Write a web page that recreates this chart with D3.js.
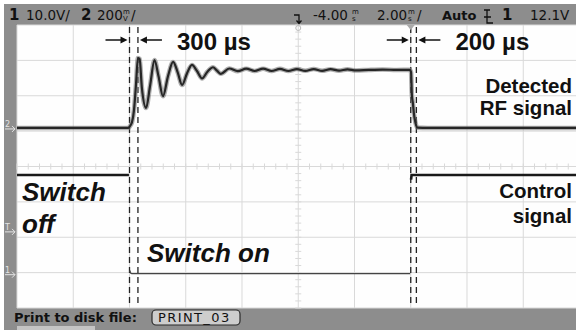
<!DOCTYPE html>
<html>
<head>
<meta charset="utf-8">
<script src="https://cdn.jsdelivr.net/npm/d3@7"></script>
<style>
  body { margin: 0; background: #fff; }
  svg { display: block; }
  .scope { font-family: "DejaVu Sans", sans-serif; fill: #111; }
  .note { font-family: "Liberation Sans", Arial, sans-serif; font-weight: bold; fill: #111; }
</style>
</head>
<body>
<svg id="chart" width="576" height="330"></svg>
<script>
// time in ms (2 ms/div), channel 2 in mV (200 mV/div), channel 1 in V (10 V/div)
const rfTime = [-14, -10.04, -9.98, -9.91, -9.84, -9.77, -9.7, -9.64, -9.56, -9.41, -9.27, -9.11,
  -8.97, -8.81, -8.63, -8.45, -8.29, -8.13, -7.95, -7.78, -7.6, -7.42, -7.23, -7.03, -6.89, -6.75,
  -6.45, -6.15, -5.85, -5.55, -5.25, -4.95, -4.65, -4.35, -4.05, -3.75, -3.45, -3.15, -2.85, -2.55,
  -2.25, -1.95, -1.5, -1.0, -0.5, -0.04, 0.01, 0.04, 0.08, 0.11, 0.17, 0.24, 0.6, 6];
const rfLevel = [0, 0, 11, 33, 101, 243, 395, 390, 226, 113, 237, 384,
  293, 180, 293, 373, 316, 243, 311, 356, 322, 280, 318, 343, 324, 306,
  336, 321, 335, 322, 335, 322, 334, 322, 333, 323, 333, 323, 332, 324,
  331, 325, 328, 330, 328, 329, 316, 186, 135, 84, 28, 2, 0, 0];

const ctrlTime = [-14, -10.02, NaN, -9.99, -9.96, -9.92, -0.02, NaN, 0.01, 0.03, 6];
const ctrlLevel = [27.9, 27.9, NaN, 0.9, 0.2, 0, 0, NaN, 26.6, 27.9, 27.9];

const markerTimes = [-10, -9.7, 0, 0.2];
const gapLabels = ["300 µs", "200 µs"];
const ch1Offset = -3.03, ch2Offset = 1.09;  // divisions
const ch1Scale = 10, ch2Scale = 200;
const trigLevel = 12.1;

const svg = d3.select("#chart");
const plot = { left: 17, right: 579.5, top: 25, bottom: 308 };

const x = d3.scaleLinear().domain([-14, 6]).range([plot.left, plot.right]);
const y = d3.scaleLinear().domain([-4, 4]).range([plot.bottom, plot.top]);
const yCh1 = (v) => y(v / ch1Scale + ch1Offset);
const yCh2 = (v) => y(v / ch2Scale + ch2Offset);

// frame
svg.append("rect").attr("x", 4).attr("y", 4).attr("width", 572).attr("height", 326).attr("fill", "#8d8d8d");
svg.append("rect").attr("x", plot.left).attr("y", plot.top)
  .attr("width", 576 - plot.left).attr("height", plot.bottom - plot.top).attr("fill", "#fefefe");

// grid
const grid = svg.append("g").attr("stroke", "#d9d9d9").attr("stroke-width", 1);
grid.selectAll(".vx").data(d3.range(-14, 7, 2)).join("line")
  .attr("x1", (d) => x(d)).attr("x2", (d) => x(d)).attr("y1", plot.top).attr("y2", plot.bottom);
grid.selectAll(".hy").data(d3.range(-4, 5, 1)).join("line")
  .attr("y1", (d) => y(d)).attr("y2", (d) => y(d)).attr("x1", plot.left).attr("x2", 576);

const minorX = d3.range(-14, 6.001, 0.4), minorY = d3.range(-4, 4.001, 0.2);
grid.selectAll(".tx").data(minorX).join("line")
  .attr("x1", (d) => x(d)).attr("x2", (d) => x(d)).attr("y1", y(0) - 3).attr("y2", y(0) + 3);
grid.selectAll(".ty").data(minorY).join("line")
  .attr("y1", (d) => y(d)).attr("y2", (d) => y(d)).attr("x1", x(-4) - 3).attr("x2", x(-4) + 3);

// marker lines
svg.append("g").selectAll("line").data(markerTimes).join("line")
  .attr("x1", (d) => x(d)).attr("x2", (d) => x(d))
  .attr("y1", plot.top + 2).attr("y2", plot.bottom - 3)
  .attr("stroke", "#222").attr("stroke-width", 1.3).attr("stroke-dasharray", "6,4");

// RF trace
const rfPts = rfTime.map((t, i) => [t, rfLevel[i]]);
const rfLine = d3.line().x((d) => x(d[0])).y((d) => yCh2(d[1])).curve(d3.curveMonotoneX);
svg.append("path").datum(rfPts).attr("d", rfLine)
  .attr("fill", "none").attr("stroke", "#7a7a7a").attr("stroke-width", 4.6).attr("opacity", 0.6);
svg.append("path").datum(rfPts).attr("d", rfLine)
  .attr("fill", "none").attr("stroke", "#262626").attr("stroke-width", 2.2);

// control trace, edges too fast to show
const ctrlSegs = [];
let seg = [];
ctrlTime.forEach((t, i) => {
  if (isNaN(t)) { ctrlSegs.push(seg); seg = []; } else seg.push([t, ctrlLevel[i]]);
});
ctrlSegs.push(seg);
const ctrlLine = d3.line().x((d) => x(d[0])).y((d) => yCh1(d[1]));
svg.append("g").selectAll("path").data(ctrlSegs).join("path")
  .attr("d", ctrlLine).attr("fill", "none")
  .attr("stroke", (d) => d3.max(d, (p) => p[1]) > 10 ? "#1a1a1a" : "#444")
  .attr("stroke-width", (d) => d3.max(d, (p) => p[1]) > 10 ? 2.6 : 1.3);

// gap arrows
const arrows = svg.append("g");
function arrow(xTip, dir) {
  const yA = 40, len = 22;
  arrows.append("line").attr("x1", xTip - dir * len).attr("x2", xTip - dir * 5)
    .attr("y1", yA).attr("y2", yA).attr("stroke", "#111").attr("stroke-width", 1.5);
  arrows.append("path")
    .attr("d", `M${xTip},${yA}L${xTip - dir * 7},${yA - 3.5}L${xTip - dir * 7},${yA + 3.5}Z`)
    .attr("fill", "#111");
}
[0, 1].forEach((k) => {
  const a = markerTimes[k * 2], b = markerTimes[k * 2 + 1];
  arrow(x(a) - 2, 1);
  arrow(x(b) + 2, -1);
  svg.append("text").attr("class", "note").attr("x", x(b) + 39).attr("y", 50)
    .attr("font-size", 24).text(gapLabels[k]);
});

// labels
const right = svg.append("g").attr("class", "note").attr("font-size", 20.5).attr("text-anchor", "end");
right.append("text").attr("x", 572).attr("y", 92.5).text("Detected");
right.append("text").attr("x", 572).attr("y", 115).text("RF signal");
right.append("text").attr("x", 572).attr("y", 197.5).text("Control");
right.append("text").attr("x", 572).attr("y", 222.5).text("signal");

const ital = svg.append("g").attr("class", "note").attr("font-size", 26).attr("font-style", "italic");
ital.append("text").attr("x", 22).attr("y", 200.5).text("Switch");
ital.append("text").attr("x", 22).attr("y", 232.5).text("off");
ital.append("text").attr("x", 147).attr("y", 261.5).text("Switch on");

// status line
const status = svg.append("g").attr("class", "scope").attr("font-size", 13.5);
function stacked(g, xs, a, b) {
  g.append("text").attr("x", xs).attr("y", 14).attr("font-size", 7).text(a);
  g.append("text").attr("x", xs).attr("y", 21).attr("font-size", 7).text(b);
}
status.append("text").attr("x", 9).attr("y", 20).attr("font-weight", "bold").attr("font-size", 15).text("1");
status.append("text").attr("x", 26).attr("y", 20).text("10.0V/");
status.append("text").attr("x", 81).attr("y", 20).attr("font-weight", "bold").attr("font-size", 15).text("2");
status.append("text").attr("x", 97).attr("y", 20).text("200");
stacked(status, 123, "m", "V");
status.append("text").attr("x", 131).attr("y", 20).text("/");
status.append("path").attr("d", "M294,15H299V23M296.5,20.5L299,23.5L301.5,20.5")
  .attr("fill", "none").attr("stroke", "#111").attr("stroke-width", 1.3);
status.append("text").attr("x", 313).attr("y", 20).text("-4.00");
stacked(status, 352, "m", "s");
status.append("text").attr("x", 377).attr("y", 20).text("2.00");
stacked(status, 408, "m", "s");
status.append("text").attr("x", 417).attr("y", 20).text("/");
status.append("text").attr("x", 442).attr("y", 20).attr("font-weight", "bold").attr("font-size", 13).text("Auto");
status.append("path").attr("d", "M484,10H490M487,10V23H493M484,17H491")
  .attr("fill", "none").attr("stroke", "#111").attr("stroke-width", 1.3);
status.append("text").attr("x", 502).attr("y", 20).attr("font-weight", "bold").attr("font-size", 15).text("1");
status.append("text").attr("x", 530).attr("y", 20).text(`${trigLevel}V`);

// position markers
svg.append("circle").attr("cx", x(-4)).attr("cy", 28).attr("r", 2.5)
  .attr("fill", "none").attr("stroke", "#bbb");
svg.append("path").attr("d", `M${x(0) - 4},25H${x(0) + 4}L${x(0)},30Z`).attr("fill", "#aaa");

const side = svg.append("g").attr("class", "scope").attr("font-size", 8);
[["2", yCh2(0)], ["T", yCh1(trigLevel)], ["1", yCh1(0)]].forEach(([t, yy]) => {
  side.append("text").attr("x", 5).attr("y", yy - 1).attr("fill", "#e4e4e4").text(t);
  side.append("path").attr("d", `M5,${yy + 1}H15M12,${yy - 2}L15,${yy + 1}L12,${yy + 4}`)
    .attr("fill", "none").attr("stroke", "#e4e4e4").attr("stroke-width", 1);
});

// softkey line
svg.append("text").attr("class", "scope").attr("x", 14).attr("y", 322)
  .attr("font-size", 13).attr("font-weight", "bold").text("Print to disk file:");
svg.append("rect").attr("x", 152).attr("y", 310).attr("width", 88).attr("height", 15).attr("rx", 4)
  .attr("fill", "#cdcdcd").attr("stroke", "#2a2a2a").attr("stroke-width", 1.2);
svg.append("text").attr("class", "scope").attr("x", 158).attr("y", 322)
  .attr("font-size", 13).attr("letter-spacing", 1.4).attr("fill", "#444").text("PRINT_03");
svg.append("rect").attr("x", 17).attr("y", 326).attr("width", 78).attr("height", 4).attr("fill", "#c4c4c4");
</script>
</body>
</html>
